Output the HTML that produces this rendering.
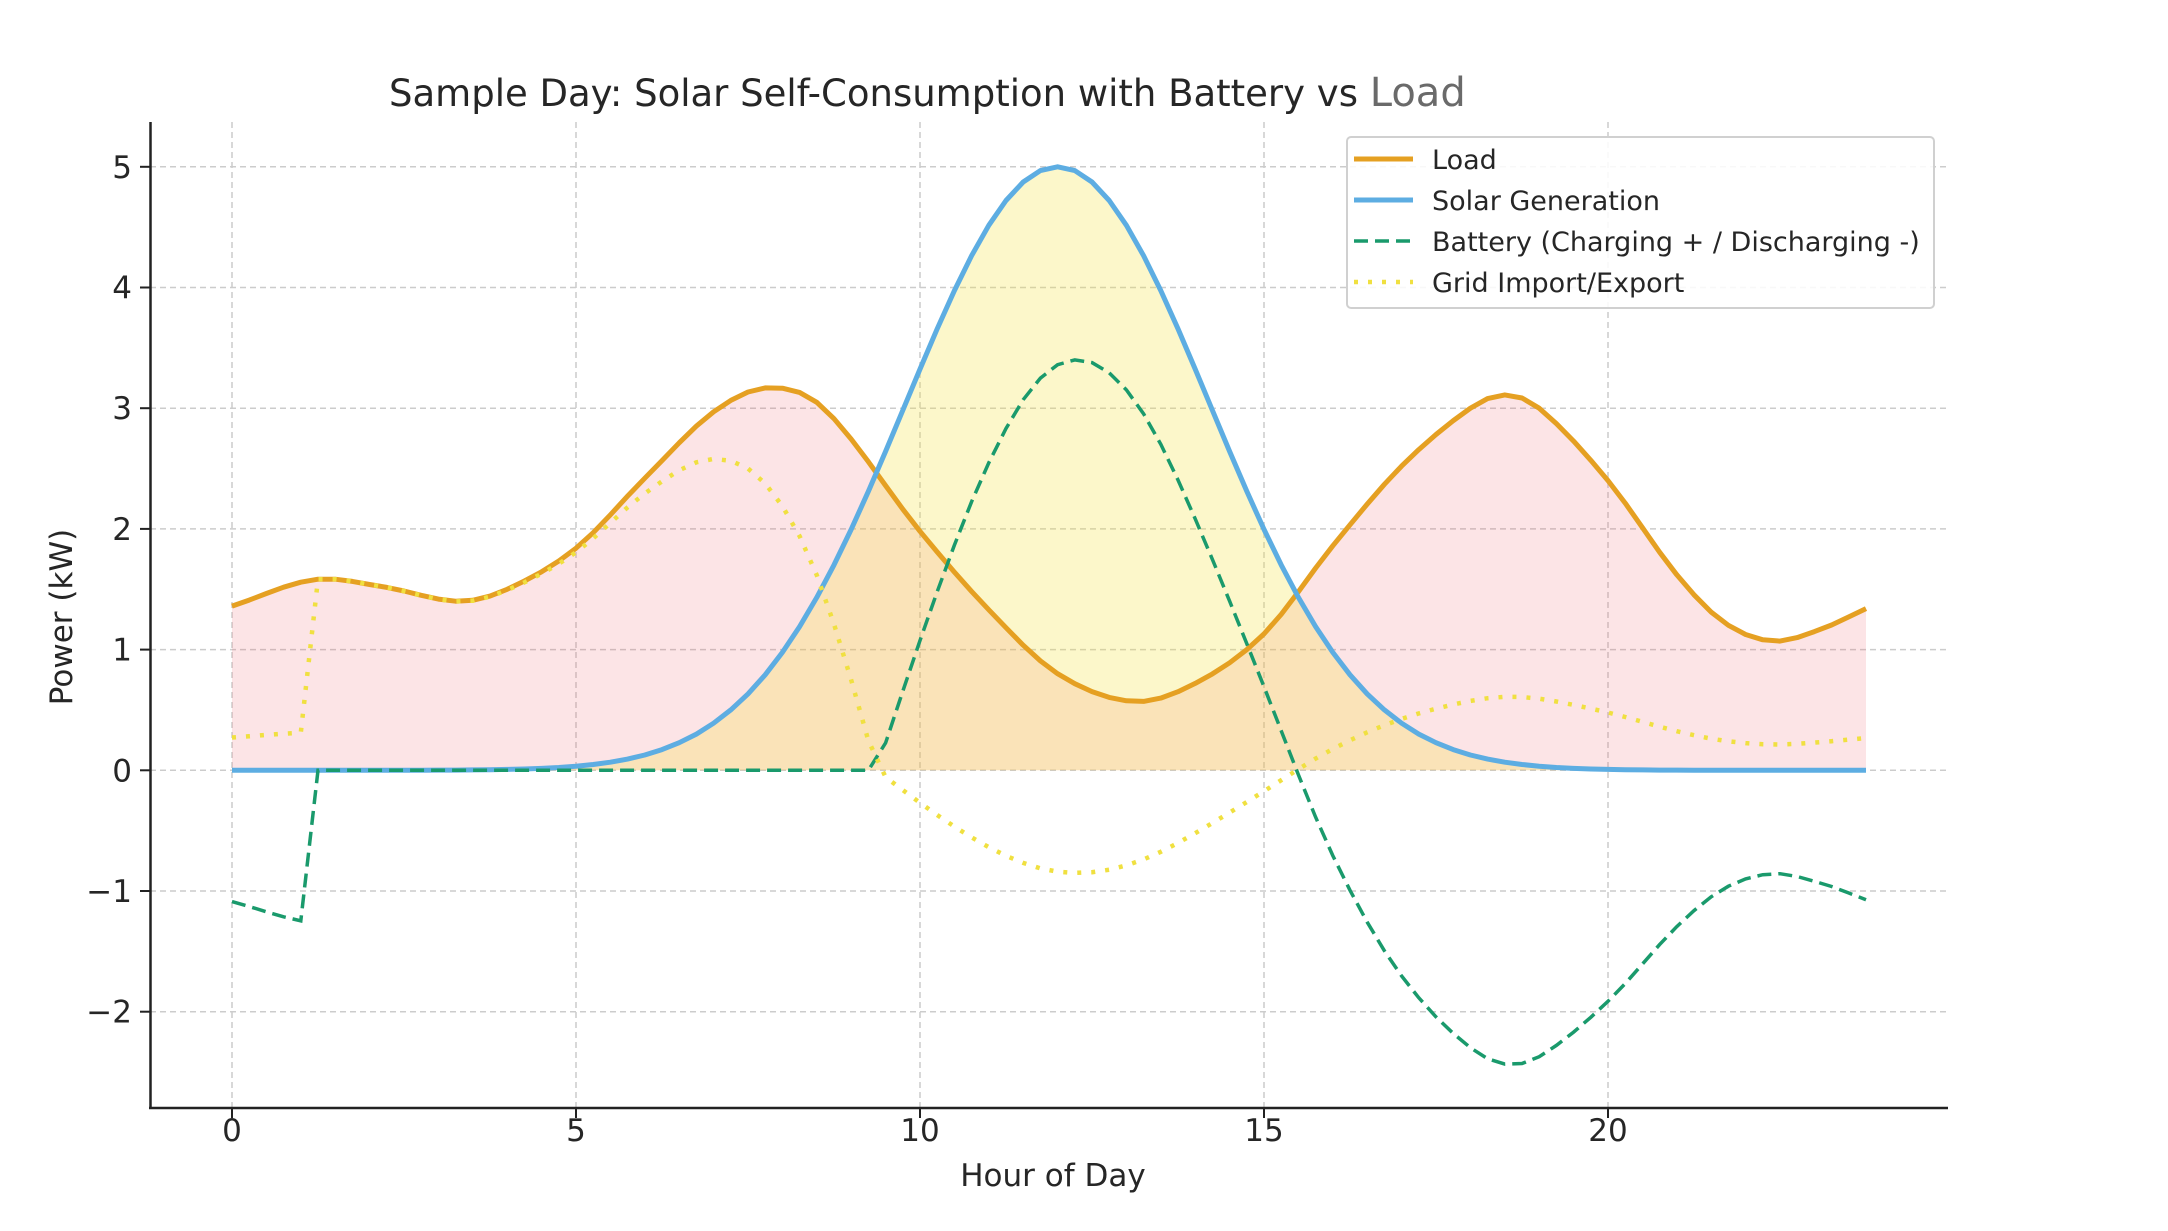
<!DOCTYPE html>
<html><head><meta charset="utf-8"><style>
html,body{margin:0;padding:0;background:#fff;}
svg{display:block;}
text{font-family:"DejaVu Sans","Liberation Sans",sans-serif;fill:#262626;}
</style></head><body>
<svg id="s" width="2168" height="1231" viewBox="0 0 2168 1231" xmlns="http://www.w3.org/2000/svg">
<rect width="2168" height="1231" fill="#fff"/>
<g id="grid"></g>
<g id="fills"></g>
<g id="lines"></g>
<g id="axes"></g>
<text x="389" y="106" font-size="37" fill="#333">Sample Day: Solar Self-Consumption with Battery vs <tspan fill="#6a6a6a" font-size="40">Load</tspan></text>
<text x="1053" y="1186" font-size="31" text-anchor="middle">Hour of Day</text>
<text transform="translate(72,617) rotate(-90)" font-size="31" text-anchor="middle">Power (kW)</text>
<g>
<rect x="1347" y="137" width="587" height="171" rx="4" fill="#fff" fill-opacity="0.85" stroke="#d0d0d0" stroke-width="2"/>
<line x1="1354" y1="159" x2="1413" y2="159" stroke="#e5a022" stroke-width="5"/>
<line x1="1354" y1="200" x2="1413" y2="200" stroke="#5dade2" stroke-width="5"/>
<line x1="1354" y1="241" x2="1413" y2="241" stroke="#1a9a6c" stroke-width="3.5" stroke-dasharray="14 7"/>
<line x1="1354" y1="282" x2="1413" y2="282" stroke="#f0e040" stroke-width="4.5" stroke-dasharray="4 10"/>
<text x="1432" y="169" font-size="27" fill="#666">Load</text>
<text x="1432" y="210" font-size="27" fill="#333">Solar Generation</text>
<text x="1432" y="251" font-size="27" fill="#333">Battery (Charging + / Discharging -)</text>
<text x="1432" y="292" font-size="27" fill="#333">Grid Import/Export</text>
</g>
</svg>
<script>
var X0=232,KX=68.8,Y0=770.3,KY=120.7;
function px(h){return X0+h*KX;} function py(v){return Y0-v*KY;}
var cp=[[0,1.36],[1.2,1.58],[2.2,1.52],[3.3,1.40],[4,1.5],[5,1.84],[6,2.42],[7,2.97],[7.8,3.17],[8.6,3.0],[10,1.98],[11,1.33],[12,0.8],[13.1,0.57],[14,0.72],[15,1.13],[16,1.86],[17,2.52],[18,3.0],[18.5,3.11],[19,3.0],[20,2.4],[21,1.62],[21.7,1.22],[22.4,1.07],[23.1,1.17],[23.75,1.34]];
function m(i){var a=cp[Math.max(0,i-1)],b=cp[Math.min(cp.length-1,i+1)];return (b[1]-a[1])/(b[0]-a[0]);}
function L(t){for(var i=0;i<cp.length-1;i++){if(t<=cp[i+1][0]){var x0=cp[i][0],x1=cp[i+1][0],h=x1-x0,s=(t-x0)/h;
var h00=2*s*s*s-3*s*s+1,h10=s*s*s-2*s*s+s,h01=-2*s*s*s+3*s*s,h11=s*s*s-s*s;
return h00*cp[i][1]+h10*h*m(i)+h01*cp[i+1][1]+h11*h*m(i+1);}}return cp[cp.length-1][1];}
function S(t){return 5*Math.exp(-(t-12)*(t-12)/9.8);}
var T=[],Ls=[],Ss=[],B=[],G=[];
for(var k=0;k<96;k++){var t=k*0.25;T.push(t);var l=L(t),s=S(t);Ls.push(l);Ss.push(s);
var b,g;if(s>l){b=0.8*(s-l);g=-0.2*(s-l);}else if(t<=1.0){b=-0.8*(l-s);g=0.2*(l-s);}else if(t<9.5){b=0;g=l-s;}else{b=-0.8*(l-s);g=0.2*(l-s);}
B.push(b);G.push(g);}
function path(arr){var d="";for(var i=0;i<T.length;i++){d+=(i?"L":"M")+px(T[i]).toFixed(1)+","+py(arr[i]).toFixed(1);}return d;}
function area(arr){var d=path(arr);d+="L"+px(T[T.length-1]).toFixed(1)+","+py(0)+"L"+px(0)+","+py(0)+"Z";return d;}
var NS="http://www.w3.org/2000/svg";
function el(p,tag,at){var e=document.createElementNS(NS,tag);for(var k in at)e.setAttribute(k,at[k]);document.getElementById(p).appendChild(e);return e;}
[0,5,10,15,20].forEach(function(h){el("grid","line",{x1:px(h),x2:px(h),y1:122,y2:1108,stroke:"#cccccc","stroke-width":1.5,"stroke-dasharray":"6 4"});});
[-2,-1,0,1,2,3,4,5].forEach(function(v){el("grid","line",{x1:150,x2:1948,y1:py(v),y2:py(v),stroke:"#cccccc","stroke-width":1.5,"stroke-dasharray":"6 4"});});
el("fills","path",{d:area(Ls),fill:"rgb(235,90,100)","fill-opacity":0.16});
el("fills","path",{d:area(Ss),fill:"rgb(245,225,60)","fill-opacity":0.27});
el("lines","path",{d:path(Ls),fill:"none",stroke:"#e5a022","stroke-width":5,"stroke-linejoin":"round"});
el("lines","path",{d:path(Ss),fill:"none",stroke:"#5dade2","stroke-width":5,"stroke-linejoin":"round"});
el("lines","path",{d:path(B),fill:"none",stroke:"#1a9a6c","stroke-width":3.5,"stroke-dasharray":"14 7"});
el("lines","path",{d:path(G),fill:"none",stroke:"#f0e040","stroke-width":4.5,"stroke-dasharray":"4 10"});
el("axes","line",{x1:150.5,x2:150.5,y1:122,y2:1109,stroke:"#222","stroke-width":2.5});
el("axes","line",{x1:149,x2:1948,y1:1108,y2:1108,stroke:"#222","stroke-width":2.5});
[0,5,10,15,20].forEach(function(h){el("axes","line",{x1:px(h),x2:px(h),y1:1108,y2:1118,stroke:"#222","stroke-width":2});
var t=el("axes","text",{x:px(h),y:1141,"font-size":31,"text-anchor":"middle"});t.textContent=h;});
[-2,-1,0,1,2,3,4,5].forEach(function(v){el("axes","line",{x1:140,x2:150,y1:py(v),y2:py(v),stroke:"#222","stroke-width":2});
var t=el("axes","text",{x:132,y:py(v)+11,"font-size":31,"text-anchor":"end"});t.textContent=v<0?"\u2212"+(-v):v;});
</script>
</body></html>
